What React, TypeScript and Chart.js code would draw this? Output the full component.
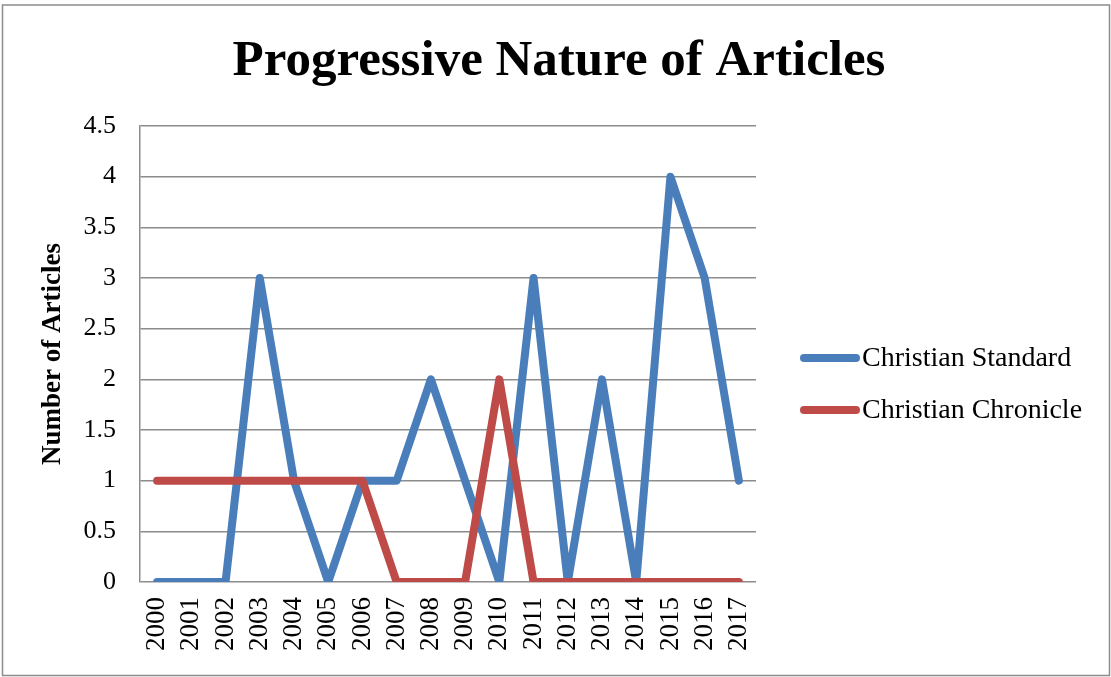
import React, { useEffect, useRef } from "react";
import { Chart, registerables } from "chart.js";

Chart.register(...registerables);

const years = ["2000","2001","2002","2003","2004","2005","2006","2007","2008","2009","2010","2011","2012","2013","2014","2015","2016","2017"];
const christianStandard = [0,0,0,3,1,0,1,1,2,1,0,3,0,2,0,4,3,1];
const christianChronicle = [1,1,1,1,1,1,1,0,0,0,2,0,0,0,0,0,0,0];
const seriesNames = ["Christian Standard", "Christian Chronicle"];
const seriesColors = ["#4A7EBB", "#BE4B48"];
const chartTitle = "Progressive Nature of Articles";
const yTitle = "Number of Articles";

const SERIF = "'Liberation Serif', 'Times New Roman', serif";

export default function App() {
  const ref = useRef<HTMLCanvasElement | null>(null);
  useEffect(() => {
    if (!ref.current) return;
    const decor = {
      id: "decor",
      beforeDraw(chart: any) {
        const ctx = chart.ctx;
        ctx.save();
        ctx.fillStyle = "#ffffff";
        ctx.fillRect(0, 0, chart.width, chart.height);
        ctx.strokeStyle = "#8c8c8c";
        ctx.lineWidth = 1.5;
        ctx.strokeRect(2.5, 5, 1107, 670.5);
        ctx.restore();
      },
      afterDraw(chart: any) {
        const ctx = chart.ctx;
        ctx.save();
        ctx.fillStyle = "#000";
        ctx.font = `bold 51px ${SERIF}`;
        ctx.textAlign = "center";
        ctx.textBaseline = "middle";
        ctx.fillText(chartTitle, 559, 62);
        // legend
        ctx.font = `28px ${SERIF}`;
        ctx.textAlign = "left";
        const ys = [358, 410];
        chart.data.datasets.forEach((ds: any, i: number) => {
          ctx.strokeStyle = ds.borderColor;
          ctx.lineWidth = 8;
          ctx.lineCap = "round";
          ctx.beginPath();
          ctx.moveTo(804, ys[i]);
          ctx.lineTo(856, ys[i]);
          ctx.stroke();
          ctx.fillStyle = "#000";
          ctx.fillText(ds.label, 862, ys[i] + 1);
        });
        ctx.restore();
      },
    };
    const chart = new Chart(ref.current, {
      type: "line",
      data: {
        labels: years,
        datasets: [
          {
            label: seriesNames[0],
            data: christianStandard,
            borderColor: seriesColors[0],
            backgroundColor: seriesColors[0],
            borderWidth: 8,
            pointRadius: 0,
            borderCapStyle: "round",
            borderJoinStyle: "round",
            tension: 0,
            order: 1,
          },
          {
            label: seriesNames[1],
            data: christianChronicle,
            borderColor: seriesColors[1],
            backgroundColor: seriesColors[1],
            borderWidth: 8,
            pointRadius: 0,
            borderCapStyle: "round",
            borderJoinStyle: "round",
            tension: 0,
            order: 0,
          },
        ],
      },
      options: {
        responsive: false,
        animation: false,
        layout: { padding: { top: 126, right: 355, left: 0, bottom: 0 } },
        plugins: {
          legend: { display: false },
          title: { display: false },
          tooltip: { enabled: false },
        },
        scales: {
          x: {
            offset: true,
            grid: { display: false, drawTicks: false },
            border: { display: false },
            ticks: {
              minRotation: 90,
              maxRotation: 90,
              padding: 15,
              color: "#000",
              font: { family: SERIF, size: 27 },
              autoSkip: false,
            },
            afterFit(scale: any) {
              scale.height = 95;
            },
          },
          y: {
            min: 0,
            max: 4.5,
            grid: { color: "#8c8c8c", lineWidth: 1.5, drawTicks: false },
            border: { display: true, color: "#8c8c8c", width: 1.5 },
            ticks: {
              stepSize: 0.5,
              padding: 24,
              color: "#000",
              font: { family: SERIF, size: 26 },
              callback: (v: any) => String(Number(v)),
            },
            title: {
              display: true,
              text: yTitle,
              color: "#000",
              font: { family: SERIF, size: 27, weight: "bold" },
              padding: { top: 37, bottom: 0 },
            },
            afterFit(scale: any) {
              scale.width = 140;
            },
          },
        },
      },
      plugins: [decor],
    } as any);
    return () => chart.destroy();
  }, []);
  return (
    <div style={{ position: "fixed", left: 0, top: 0, width: 1111, height: 677, background: "#fff" }}>
      <canvas ref={ref} width={1111} height={677} style={{ display: "block", width: 1111, height: 677 }} />
    </div>
  );
}
